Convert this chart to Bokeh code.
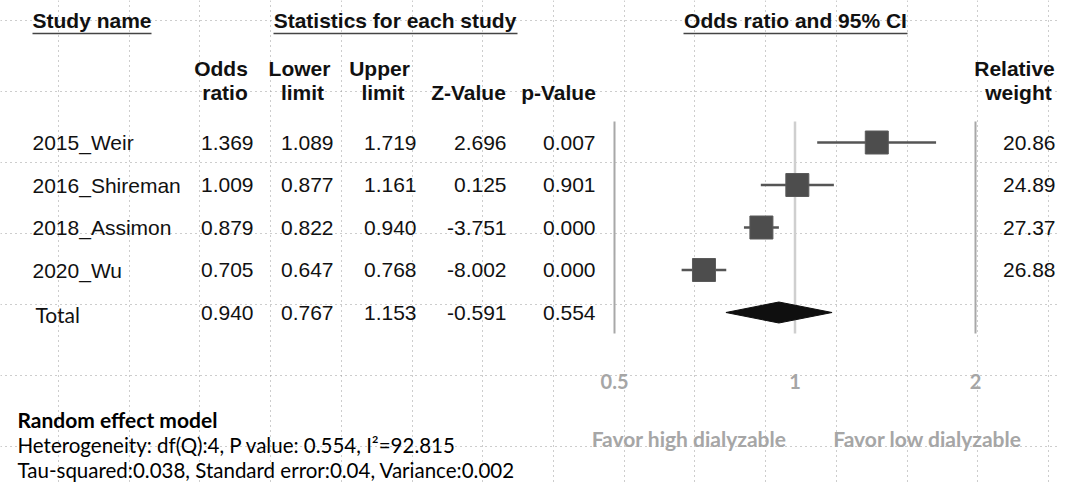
from bokeh.plotting import figure
from bokeh.models import Range1d, LogScale, FixedTicker, ColumnDataSource
from bokeh.core.properties import value
from bokeh.embed import file_html
from bokeh.resources import INLINE

# ---------------- data ----------------
studies = ["2015_Weir", "2016_Shireman", "2018_Assimon", "2020_Wu"]
odds_ratio = [1.369, 1.009, 0.879, 0.705]
lower_limit = [1.089, 0.877, 0.822, 0.647]
upper_limit = [1.719, 1.161, 0.940, 0.768]
z_value = [2.696, 0.125, -3.751, -8.002]
p_value = [0.007, 0.901, 0.000, 0.000]
rel_weight = [20.86, 24.89, 27.37, 26.88]

total_label = "Total"
total_or = 0.940
total_lower = 0.767
total_upper = 1.153
total_z = -0.591
total_p = 0.554

axis_ticks = [0.5, 1, 2]
axis_tick_labels = ["0.5", "1", "2"]
ref_lines = [0.5, 1, 2]

favor_left = "Favor high dialyzable"
favor_right = "Favor low dialyzable"
model_title = "Random effect model"
model_lines = ["Heterogeneity: df(Q):4, P value: 0.554, I\u00b2=92.815",
               "Tau-squared:0.038, Standard error:0.04, Variance:0.002"]

# ---------------- layout ----------------
W, H = 1057, 482
X_ONE = 794.5            # pixel of OR = 1
PX_PER_DOUBLING = 180.5
or_start = 2 ** ((0 - X_ONE) / PX_PER_DOUBLING)
or_end = 2 ** ((W - X_ONE) / PX_PER_DOUBLING)

ROW_FIRST = 142.0
ROW_STEP = 42.5
row_y = [ROW_FIRST + ROW_STEP * i for i in range(len(studies))]
total_y = ROW_FIRST + ROW_STEP * len(studies)
TDY = -8                 # text baseline correction
BASE_OFF = 8 + TDY       # baseline offset below row centre

ARIAL = value("Liberation Sans")
CALIBRI = value("Lato")
FS = "21px"
INK = "#111111"

p = figure(width=W, height=H, output_backend="svg", toolbar_location=None,
           x_range=Range1d(0, W), y_range=Range1d(H, 0),
           min_border=0, outline_line_color=None)
p.extra_x_ranges = {"or": Range1d(or_start, or_end)}
p.extra_x_scales = {"or": LogScale()}
p.xaxis.visible = False
p.yaxis.visible = False
p.xgrid.ticker = FixedTicker(ticks=[58 + 70.71 * k for k in range(15)])
p.ygrid.ticker = FixedTicker(ticks=[20 + 71.0 * k for k in range(7)])
for g in (p.xgrid[0], p.ygrid[0]):
    g.grid_line_color = "#9a9a9a"
    g.grid_line_dash = "1 4"
    g.grid_line_width = 1

def txt(x, y, t, font=ARIAL, size=FS, align="left", style="normal", color=INK, **kw):
    p.text(x=x, y=[v + TDY for v in y], text=t, text_font=font, text_font_size=size,
           text_align=align, text_baseline="alphabetic", text_font_style=style,
           text_color=color, **kw)

# ---- headers ----
txt([32], [28], ["Study name"], style="bold")
txt([394.5], [28], ["Statistics for each study"], style="bold", align="center")
txt([795], [28], ["Odds ratio and 95% CI"], style="bold", align="center")
p.segment(x0=[32, 273, 683], x1=[151, 517, 907], y0=[33, 33, 33], y1=[33, 33, 33],
          line_color="#444444", line_width=1.5)

sub_top = ["Odds", "Lower", "Upper", "Relative"]
sub_top_x = [220.5, 299, 379, 1014]
sub_bot = ["ratio", "limit", "limit", "Z-Value", "p-Value", "weight"]
sub_bot_x = [224.5, 302, 382.5, 468, 558, 1018]
txt(sub_top_x, [76] * len(sub_top), sub_top, style="bold", align="center")
txt(sub_bot_x, [100] * len(sub_bot), sub_bot, style="bold", align="center")

# ---- table rows ----
src = ColumnDataSource(dict(
    y=[y + BASE_OFF for y in row_y],
    name=studies,
    or_t=["%.3f" % v for v in odds_ratio],
    lo_t=["%.3f" % v for v in lower_limit],
    up_t=["%.3f" % v for v in upper_limit],
    z_t=["%.3f" % v for v in z_value],
    p_t=["%.3f" % v for v in p_value],
    w_t=["%.2f" % v for v in rel_weight],
))
col_right = {"or_t": 253, "lo_t": 333, "up_t": 416, "z_t": 506, "p_t": 595, "w_t": 1055}
p.text(x=32, y="y", text="name", source=src, text_font=ARIAL, text_font_size=FS,
       text_baseline="alphabetic", text_color=INK)
for col, xr in col_right.items():
    p.text(x=xr, y="y", text=col, source=src, text_font=ARIAL, text_font_size=FS,
           text_align="right", text_baseline="alphabetic", text_color=INK)

ty = total_y + 10
txt([35], [ty], [total_label], font=CALIBRI, size="21px")
for v, xr in zip([total_or, total_lower, total_upper, total_z, total_p],
                 [253, 333, 416, 506, 595]):
    txt([xr], [ty - 2], ["%.3f" % v], align="right")

# ---- forest plot ----
line_top, line_bot = 121, 333
p.segment(x0=[ref_lines[1]], x1=[ref_lines[1]], y0=[line_top], y1=[line_bot],
          x_range_name="or", line_color="#cfcfcf", line_width=2.5)
p.segment(x0=[ref_lines[0], ref_lines[2]], x1=[ref_lines[0], ref_lines[2]],
          y0=[line_top] * 2, y1=[line_bot] * 2,
          x_range_name="or", line_color="#a8a8a8", line_width=2)

p.segment(x0=lower_limit, x1=upper_limit, y0=row_y, y1=row_y, x_range_name="or",
          line_color="#555555", line_width=2.5)
p.scatter(x=odds_ratio, y=row_y, marker="square", size=23, x_range_name="or",
          fill_color="#4d4d4d", line_color="#5a5a5a", line_width=1)

DH = 10.5
p.patch(x=[total_lower, total_or, total_upper, total_or],
        y=[total_y, total_y - DH, total_y, total_y + DH], x_range_name="or",
        fill_color="#0f0f0f", line_color="#0f0f0f", line_width=1)

txt(axis_ticks, [389] * len(axis_ticks), axis_tick_labels, font=CALIBRI, style="bold",
    align="center", color="#a6a6a6", size="20px", x_range_name="or")

txt([688.5], [446], [favor_left], font=CALIBRI, size="21px", style="bold",
    align="center", color="#a6a6a6")
txt([927], [446], [favor_right], font=CALIBRI, size="21px", style="bold",
    align="center", color="#a6a6a6")

# ---- footer ----
txt([17], [427], [model_title], font=CALIBRI, size="21px", style="bold", color="#000000")
txt([17, 17], [452, 477], model_lines, font=CALIBRI, size="20.5px", color="#000000")

open("out.html", "w").write(file_html(p, INLINE))
